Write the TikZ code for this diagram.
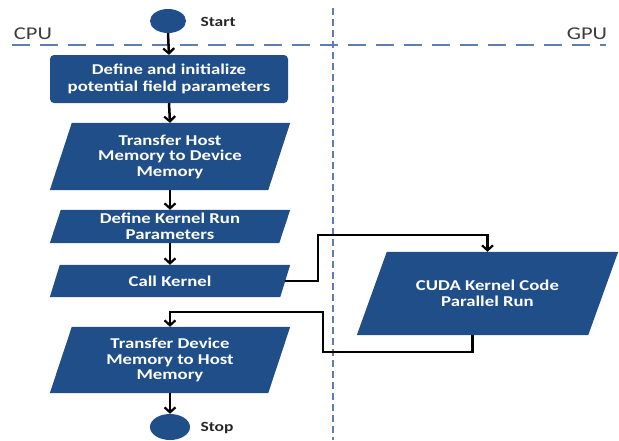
\documentclass[tikz,border=0pt]{standalone}
\usepackage{fontspec}
\setmainfont[FakeStretch=1.25]{Carlito}
\usetikzlibrary{arrows.meta,shapes.geometric,calc}
\definecolor{boxblue}{RGB}{31,78,137}
\definecolor{lanecol}{RGB}{95,125,175}
\definecolor{labelgray}{RGB}{60,60,60}
\tikzset{
  area/.style={draw=none,minimum width=240pt,inner sep=0pt,text=white,align=center,
    font=\bfseries\fontsize{15}{15.5}\selectfont},
  termnode/.style={ellipse,fill=boxblue,inner sep=0pt},
  conn/.style={line width=2.5pt,-{Straight Barb[length=5pt,width=11pt,line width=2.2pt]}},
  lane/.style={lanecol,line width=2.6pt},
  sidelabel/.style={font=\bfseries\fontsize{14}{15}\selectfont,text=black!85},
  lanelabel/.style={font=\fontsize{18}{19}\selectfont,text=labelgray}
}
\begin{document}
\begin{tikzpicture}[x=1pt,y=-1pt]
\useasboundingbox (0,0) rectangle (619,440);
% lanes
\draw[lane,dash pattern=on 18pt off 10pt] (12,45) -- (606,45);
\draw[lane,line width=2.2pt,dash pattern=on 7pt off 4pt] (333,8) -- (333,440);
\node[lanelabel] (cpu) at (33,34) {CPU};
\node[lanelabel] (gpu) at (587,34) {GPU};
% terminals
\node[termnode,minimum width=36pt,minimum height=24pt] (start) at (168,21) {};
\node[sidelabel,anchor=west] (startlbl) at (197,22) {Start};
\node[termnode,minimum width=40pt,minimum height=26pt] (stop) at (170,427) {};
\node[sidelabel,anchor=west] (stoplbl) at (197,428) {Stop};
% box 1
\node[area,fill=boxblue,rounded corners=4pt,minimum width=238pt,minimum height=48pt,
  font=\bfseries\fontsize{15}{17.5}\selectfont] (b1) at (169,79)
  {Define and initialize\\potential field parameters};
% parallelogram boxes
\node[area,minimum height=67pt] (b2) at (170,156.5) {};
\fill[boxblue] ([xshift=22pt]b2.north west) -- (b2.north east) -- ([xshift=-22pt]b2.south east) -- (b2.south west) -- cycle;
\node[area] (b2t) at (b2) {Transfer Host\\Memory to Device\\Memory};
\node[area,minimum height=33pt] (b3) at (170,226.5) {};
\fill[boxblue] ([xshift=11pt]b3.north west) -- (b3.north east) -- ([xshift=-11pt]b3.south east) -- (b3.south west) -- cycle;
\node[area] (b3t) at (b3) {Define Kernel Run\\Parameters};
\node[area,minimum height=32pt] (b4) at (170,281) {};
\fill[boxblue] ([xshift=10pt]b4.north west) -- (b4.north east) -- ([xshift=-10pt]b4.south east) -- (b4.south west) -- cycle;
\node[area] (b4t) at (b4) {Call Kernel};
\node[area,minimum height=66pt] (b5) at (170,360) {};
\fill[boxblue] ([xshift=22pt]b5.north west) -- (b5.north east) -- ([xshift=-22pt]b5.south east) -- (b5.south west) -- cycle;
\node[area] (b5t) at (b5) {Transfer Device\\Memory to Host\\Memory};
\node[area,minimum width=261pt,minimum height=83pt] (cuda) at (487.5,293.5) {};
\fill[boxblue] ([xshift=30pt]cuda.north west) -- (cuda.north east) -- ([xshift=-30pt]cuda.south east) -- (cuda.south west) -- cycle;
\node[area] (cudat) at (cuda) {CUDA Kernel Code\\Parallel Run};
% connectors
\draw[conn] (start.south) -- (b1.south |- b1.north);
\draw[conn] (b1.south) -- (b2.north);
\draw[conn] (b2.south) -- (b3.north);
\draw[conn] (b3.south) -- (b4.north);
\draw[conn] (b5.south) -- (stop.north);
\coordinate (k1) at (318,235);
\draw[conn] ([xshift=-5pt]b4.east) -| (k1) -| (cuda.north);
\coordinate (k2) at (323,352);
\coordinate (k3) at (170,312);
\draw[conn] ([xshift=-15pt]cuda.south) |- (k2) |- (k3) -- (b5.north);
\end{tikzpicture}
\end{document}
